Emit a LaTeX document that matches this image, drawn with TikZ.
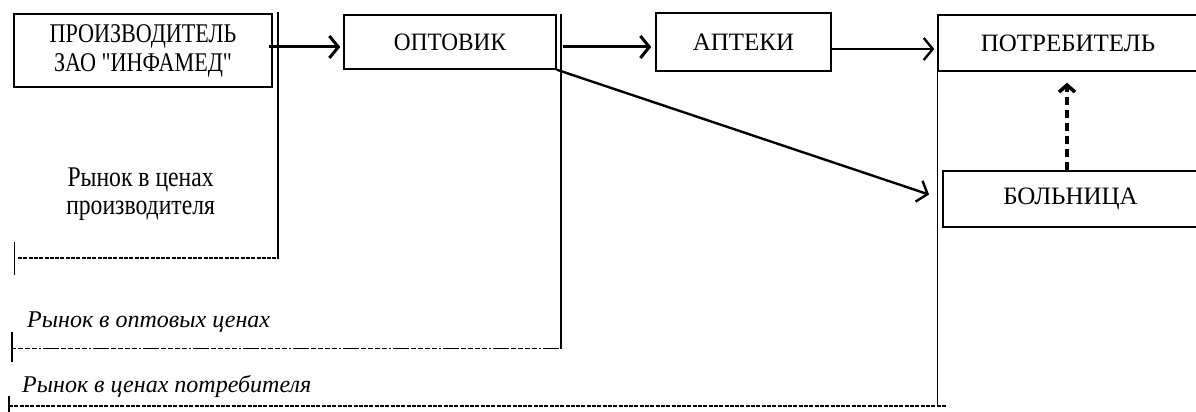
\documentclass[tikz,border=0pt]{standalone}
\usepackage{fontspec}
\setmainfont{Liberation Serif}[Ligatures=TeXOff]
\usetikzlibrary{arrows.meta}
\newcommand{\cond}[2]{\scalebox{#1}[1]{#2}}
\begin{document}
\begin{tikzpicture}[x=1pt,y=-1pt,
  box/.style={draw,line width=1.4pt,inner sep=0pt,align=center,font=\fontsize{25}{29}\selectfont},
  lbl/.style={inner sep=0pt,align=center,font=\fontsize{28.5}{28}\selectfont},
  ilbl/.style={inner sep=0pt,anchor=base west,font=\fontsize{24}{28}\selectfont\itshape},
  flow/.style={line width=3pt,-{Straight Barb[length=9pt,width=22pt,line width=3pt]}},
  thinflow/.style={line width=2.4pt,-{Straight Barb[length=9pt,width=22pt,line width=2.4pt]}},
  border/.style={line width=1.4pt},
  dashA/.style={line width=1.6pt,dash pattern=on 4pt off 1.3pt},
  dashB/.style={line width=1pt,dash pattern=on 5pt off 2pt on 5pt off 2pt on 5pt off 2pt on 5pt off 2pt on 2pt off 2pt on 16pt off 2pt},
  dashC/.style={line width=1.6pt,dash pattern=on 4pt off 1.3pt}]
\useasboundingbox (0,0) rectangle (1196,412);
% boxes
\node[box,minimum width=258pt,minimum height=73pt,font=\fontsize{27}{29}\selectfont] (prod) at (143,50.5)
  {\cond{0.82}{ПРОИЗВОДИТЕЛЬ}\\\cond{0.82}{ЗАО "ИНФАМЕД"}};
\node[box,minimum width=212pt,minimum height=54pt] (opt) at (450,42) {\cond{0.93}{ОПТОВИК}};
\node[box,minimum width=175pt,minimum height=58pt] (apt) at (743.5,42) {АПТЕКИ};
\node[box,minimum width=260pt,minimum height=56pt] (cons) at (1068,43) {ПОТРЕБИТЕЛЬ};
\node[box,minimum width=255pt,minimum height=56pt] (hosp) at (1070.5,199) {БОЛЬНИЦА};
% market labels
\node[lbl] (m1) at (140.6,194.5) {\cond{0.83}{Рынок в ценах}\\\cond{0.83}{производителя}};
\node[ilbl] (m2) at (27,327) {Рынок в оптовых ценах};
\node[ilbl] (m3) at (22,392) {Рынок в ценах потребителя};
% boundary coordinates
\coordinate (v1t) at (278,12);    \coordinate (v1b) at (278,259);
\coordinate (d1l) at (18,258);
\coordinate (t1t) at (14.5,242);  \coordinate (t1b) at (14.5,275);
\coordinate (v2t) at (561,14);    \coordinate (v2b) at (561,349);
\coordinate (d2l) at (11,348);
\coordinate (t2t) at (12,332);    \coordinate (t2b) at (12,362);
\coordinate (v3t) at (937.5,14);  \coordinate (v3b) at (937.5,405);
\coordinate (d3l) at (9,406);     \coordinate (d3r) at (947,406);
\coordinate (t3t) at (9,396);     \coordinate (t3b) at (9,413);
% boundaries
\draw[border] (v1t) -- (v1b);
\draw[dashA] (d1l) -- (d1l -| v1b);
\draw[border] (t1t) -- (t1b);
\draw[border] (v2t) -- (v2b);
\draw[dashB] (d2l) -- (d2l -| v2b);
\draw[border] (t2t) -- (t2b);
\draw[border] (v3t) -- (v3b);
\draw[dashC] (d3l) -- (d3r);
\draw[border] (t3t) -- (t3b);
% flows
\draw[flow,shorten >=3pt] ([xshift=-4pt,yshift=3.5pt]prod.east) -- ([yshift=3.5pt]prod.east -| opt.west);
\draw[flow,shorten >=4pt] ([xshift=6pt,yshift=-5pt]opt.east) -- ([yshift=-5pt]opt.east -| apt.west);
\draw[thinflow,shorten >=3pt] ([yshift=-7pt]apt.east) -- ([yshift=-7pt]apt.east -| cons.west);
\draw[thinflow,shorten >=14pt] (opt.south east) -- (hosp.west);
\draw[line width=3.6pt,dash pattern=on 8pt off 5pt,-{Straight Barb[length=7pt,width=16pt,line width=3.6pt]},shorten >=11pt] ([xshift=-3.5pt]hosp.north) -- ([xshift=-3.5pt]hosp.north |- cons.south);
\end{tikzpicture}
\end{document}
